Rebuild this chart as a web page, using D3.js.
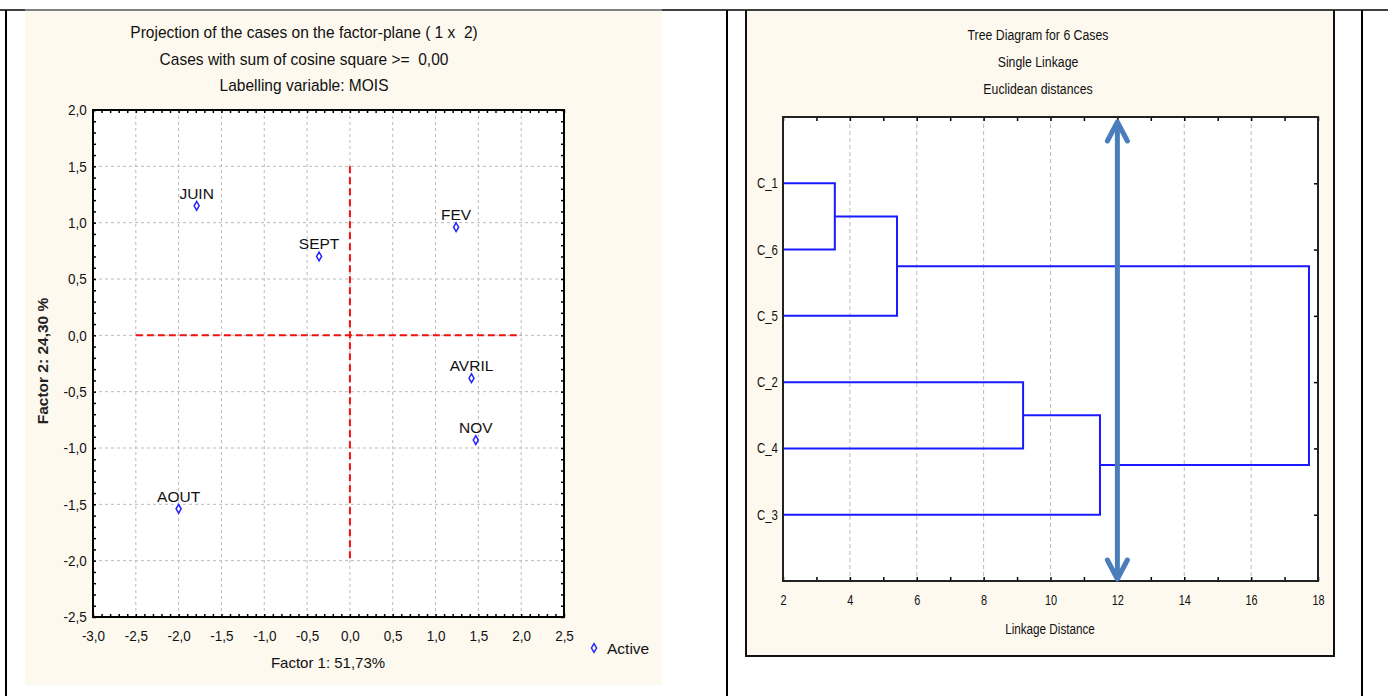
<!DOCTYPE html>
<html>
<head>
<meta charset="utf-8">
<script src="https://cdn.jsdelivr.net/npm/d3@7"></script>
<style>
  body { margin: 0; background: #fff; }
  text { font-family: "Liberation Sans", Arial, sans-serif; white-space: pre; }
</style>
</head>
<body>
<div id="chart"></div>
<script>
// left chart: factor plane projection
var caseNames = ["JUIN", "SEPT", "FEV", "AVRIL", "NOV", "AOUT"];
var factor1 = [-1.79, -0.36, 1.24, 1.42, 1.47, -2.0];
var factor2 = [1.15, 0.70, 0.96, -0.38, -0.93, -1.54];
var xTicksF = [-3.0, -2.5, -2.0, -1.5, -1.0, -0.5, 0.0, 0.5, 1.0, 1.5, 2.0, 2.5];
var yTicksF = [2.0, 1.5, 1.0, 0.5, 0.0, -0.5, -1.0, -1.5, -2.0, -2.5];
var titleLeft = ["Projection of the cases on the factor-plane ( 1 x  2)",
                 "Cases with sum of cosine square >=  0,00",
                 "Labelling variable: MOIS"];

// right chart: tree diagram
var leaves = ["C_1", "C_6", "C_5", "C_2", "C_4", "C_3"];
var mergeA = ["C_1", "M1", "C_2", "M3", "M2"];
var mergeB = ["C_6", "C_5", "C_4", "C_3", "M4"];
var mergeDist = [3.55, 5.41, 9.18, 11.48, 17.73];
var xTicksT = [2, 4, 6, 8, 10, 12, 14, 16, 18];
var cutDistance = 12;
var titleRight = ["Tree Diagram for 6 Cases", "Single Linkage", "Euclidean distances"];

var svg = d3.select("#chart").append("svg")
  .attr("width", 1388)
  .attr("height", 696);

var fmt = d3.formatLocale({decimal: ",", thousands: ".", grouping: [3], currency: ["", ""], minus: "-"}).format(".1f");

// ---- table frame ----
svg.append("rect").attr("x", 25).attr("y", 10).attr("width", 637).attr("height", 675).attr("fill", "#fdf9ef");
svg.append("rect").attr("x", 746).attr("y", 10).attr("width", 588).attr("height", 646).attr("fill", "#fdf9ef");
svg.append("line").attr("x1", 0).attr("x2", 1388).attr("y1", 10).attr("y2", 10).attr("stroke", "#000").attr("stroke-width", 1.5);
svg.append("line").attr("x1", 25).attr("x2", 662).attr("y1", 10).attr("y2", 10).attr("stroke", "#999").attr("stroke-width", 1.5);
[6, 727, 1362].forEach(function(x) {
  svg.append("line").attr("x1", x).attr("x2", x).attr("y1", 10).attr("y2", 696).attr("stroke", "#000").attr("stroke-width", 2);
});
svg.append("path").attr("d", "M746,10V656H1334V10").attr("fill", "none").attr("stroke", "#111").attr("stroke-width", 2);

// ================= LEFT CHART =================
var xF = d3.scaleLinear().domain([-3, 2.5]).range([93, 564]);
var yF = d3.scaleLinear().domain([-2.5, 2]).range([617, 110]);

var left = svg.append("g");

left.append("rect").attr("x", 93).attr("y", 110).attr("width", 471).attr("height", 507).attr("fill", "#fff");

// grid
left.selectAll(".gx").data(xTicksF.slice(1, -1)).enter().append("line")
  .attr("x1", function(d) { return xF(d); }).attr("x2", function(d) { return xF(d); })
  .attr("y1", 110).attr("y2", 617)
  .attr("stroke", "#bbb").attr("stroke-dasharray", "3,3");
left.selectAll(".gy").data(yTicksF.slice(1, -1)).enter().append("line")
  .attr("y1", function(d) { return yF(d); }).attr("y2", function(d) { return yF(d); })
  .attr("x1", 93).attr("x2", 564)
  .attr("stroke", "#bbb").attr("stroke-dasharray", "3,3");

// red origin lines
left.append("line").attr("x1", xF(-2.5)).attr("x2", xF(2.0)).attr("y1", yF(0)).attr("y2", yF(0))
  .attr("stroke", "#f01010").attr("stroke-width", 2).attr("stroke-dasharray", "7,4");
left.append("line").attr("x1", xF(0)).attr("x2", xF(0)).attr("y1", yF(1.5)).attr("y2", yF(-2.0))
  .attr("stroke", "#f01010").attr("stroke-width", 2).attr("stroke-dasharray", "7,4");

// minor ticks, inward on all sides
var minorX = d3.range(-30, 26).map(function(d) { return d / 10; });
var minorY = d3.range(-25, 21).map(function(d) { return d / 10; });
function tickStyle(g) {
  g.select(".domain").remove();
  g.selectAll("line").attr("stroke", "#000").attr("stroke-width", 1.5);
  g.selectAll("text").remove();
}
left.append("g").attr("transform", "translate(0,617)").call(d3.axisBottom(xF).tickValues(minorX).tickSize(-3)).call(tickStyle);
left.append("g").attr("transform", "translate(0,110)").call(d3.axisTop(xF).tickValues(minorX).tickSize(-3)).call(tickStyle);
left.append("g").attr("transform", "translate(93,0)").call(d3.axisLeft(yF).tickValues(minorY).tickSize(-3)).call(tickStyle);
left.append("g").attr("transform", "translate(564,0)").call(d3.axisRight(yF).tickValues(minorY).tickSize(-3)).call(tickStyle);

left.append("rect").attr("x", 93).attr("y", 110).attr("width", 471).attr("height", 507)
  .attr("fill", "none").attr("stroke", "#000").attr("stroke-width", 2);

// tick labels
var axB = left.append("g").attr("transform", "translate(0,617)")
  .call(d3.axisBottom(xF).tickValues(xTicksF).tickFormat(fmt).tickSize(0).tickPadding(13));
axB.select(".domain").remove();
axB.selectAll("text").attr("font-size", 15).attr("fill", "#111").attr("transform", "scale(0.9,1)")
  .style("font-family", "Liberation Sans, Arial");
var axL = left.append("g").attr("transform", "translate(93,0)")
  .call(d3.axisLeft(yF).tickValues(yTicksF).tickFormat(fmt).tickSize(0).tickPadding(7));
axL.select(".domain").remove();
axL.selectAll("text").attr("font-size", 15).attr("fill", "#111").attr("transform", "scale(0.9,1)")
  .style("font-family", "Liberation Sans, Arial");

// titles
left.selectAll(".title").data(titleLeft).enter().append("text")
  .attr("transform", function(d, i) { return "translate(304," + (38 + i * 26.5) + ") scale(0.97,1)"; })
  .attr("text-anchor", "middle").attr("font-size", 16).attr("fill", "#111")
  .text(function(d) { return d; });

left.append("text").attr("x", 328).attr("y", 668).attr("text-anchor", "middle")
  .attr("font-size", 15).attr("fill", "#111").text("Factor 1: 51,73%");
left.append("text").attr("transform", "translate(48,361) rotate(-90)").attr("text-anchor", "middle")
  .attr("font-size", 15.5).attr("font-weight", "bold").attr("fill", "#222").text("Factor 2: 24,30 %");

// points
var diamond = d3.symbol().type(d3.symbolDiamond).size(22);
var pts = left.selectAll(".pt").data(caseNames).enter().append("g")
  .attr("transform", function(d, i) { return "translate(" + xF(factor1[i]) + "," + yF(factor2[i]) + ")"; });
pts.append("path").attr("d", diamond).attr("fill", "#fff").attr("stroke", "#2424ff").attr("stroke-width", 1.5);
pts.append("text").attr("y", -7).attr("text-anchor", "middle").attr("font-size", 15.5).attr("fill", "#111")
  .text(function(d) { return d; });

// legend
left.append("path").attr("d", diamond).attr("transform", "translate(594,648)")
  .attr("fill", "#fff").attr("stroke", "#2424ff").attr("stroke-width", 1.5);
left.append("text").attr("x", 607).attr("y", 654).attr("font-size", 15.5).attr("fill", "#111").text("Active");

// ================= RIGHT CHART =================
var xT = d3.scaleLinear().domain([2, 18]).range([783, 1318]);
var yT = d3.scaleLinear().domain([0, 7]).range([117, 581]);

var right = svg.append("g");
right.append("rect").attr("x", 783).attr("y", 117).attr("width", 535).attr("height", 464).attr("fill", "#fff");

right.selectAll(".gt").data(xTicksT.slice(1, -1)).enter().append("line")
  .attr("x1", function(d) { return xT(d); }).attr("x2", function(d) { return xT(d); })
  .attr("y1", 117).attr("y2", 581)
  .attr("stroke", "#bbb").attr("stroke-dasharray", "4,3");

var minorT = d3.range(2, 19);
right.append("g").attr("transform", "translate(0,581)").call(d3.axisBottom(xT).tickValues(minorT).tickSize(-4)).call(tickStyle);
right.append("g").attr("transform", "translate(0,117)").call(d3.axisTop(xT).tickValues(minorT).tickSize(-4)).call(tickStyle);
right.append("g").attr("transform", "translate(1318,0)").call(d3.axisRight(yT).tickValues([1, 2, 3, 4, 5, 6]).tickSize(-4)).call(tickStyle);

// dendrogram
var pos = {};
leaves.forEach(function(name, i) { pos[name] = {x: 2, y: i + 1}; });
var tree = right.append("g").attr("fill", "none").attr("stroke", "#1a1aff").attr("stroke-width", 2);
mergeDist.forEach(function(dist, i) {
  var a = pos[mergeA[i]], b = pos[mergeB[i]];
  tree.append("path").attr("d",
    "M" + xT(a.x) + "," + yT(a.y) + "H" + xT(dist) + "V" + yT(b.y) + "H" + xT(b.x));
  pos["M" + (i + 1)] = {x: dist, y: (a.y + b.y) / 2};
});

right.append("rect").attr("x", 783).attr("y", 117).attr("width", 535).attr("height", 464)
  .attr("fill", "none").attr("stroke", "#222").attr("stroke-width", 2);

var axT = right.append("g").attr("transform", "translate(0,581)")
  .call(d3.axisBottom(xT).tickValues(xTicksT).tickSize(0).tickPadding(14));
axT.select(".domain").remove();
axT.selectAll("text").attr("font-size", 14).attr("fill", "#111")
  .attr("transform", "scale(0.78,1)")
  .style("font-family", "Liberation Sans, Arial");

right.selectAll(".leaf").data(leaves).enter().append("text")
  .attr("transform", function(d, i) { return "translate(778," + (yT(i + 1) + 5) + ") scale(0.82,1)"; })
  .attr("text-anchor", "end").attr("font-size", 14).attr("fill", "#111")
  .text(function(d) { return d; });

right.selectAll(".ttl").data(titleRight).enter().append("text")
  .attr("transform", function(d, i) { return "translate(1038," + (40 + i * 27) + ") scale(0.82,1)"; })
  .attr("text-anchor", "middle").attr("font-size", 15).attr("fill", "#111")
  .text(function(d) { return d; });

right.append("text").attr("transform", "translate(1050,634) scale(0.78,1)").attr("text-anchor", "middle")
  .attr("font-size", 15).attr("fill", "#111").text("Linkage Distance");

// cut arrow at distance 12
var arrowX = xT(cutDistance), arrowTop = 122, arrowBot = 579;
var arrow = right.append("g").attr("fill", "none").attr("stroke", "#4a7ebb").attr("stroke-width", 5)
  .attr("stroke-linecap", "round").attr("stroke-linejoin", "round");
arrow.append("line").attr("x1", arrowX).attr("x2", arrowX).attr("y1", arrowTop + 2).attr("y2", arrowBot - 2);
arrow.append("path").attr("d", "M" + (arrowX - 10) + "," + (arrowTop + 19) + "L" + arrowX + "," + arrowTop + "L" + (arrowX + 10) + "," + (arrowTop + 19));
arrow.append("path").attr("d", "M" + (arrowX - 10) + "," + (arrowBot - 19) + "L" + arrowX + "," + arrowBot + "L" + (arrowX + 10) + "," + (arrowBot - 19));
</script>
</body>
</html>
